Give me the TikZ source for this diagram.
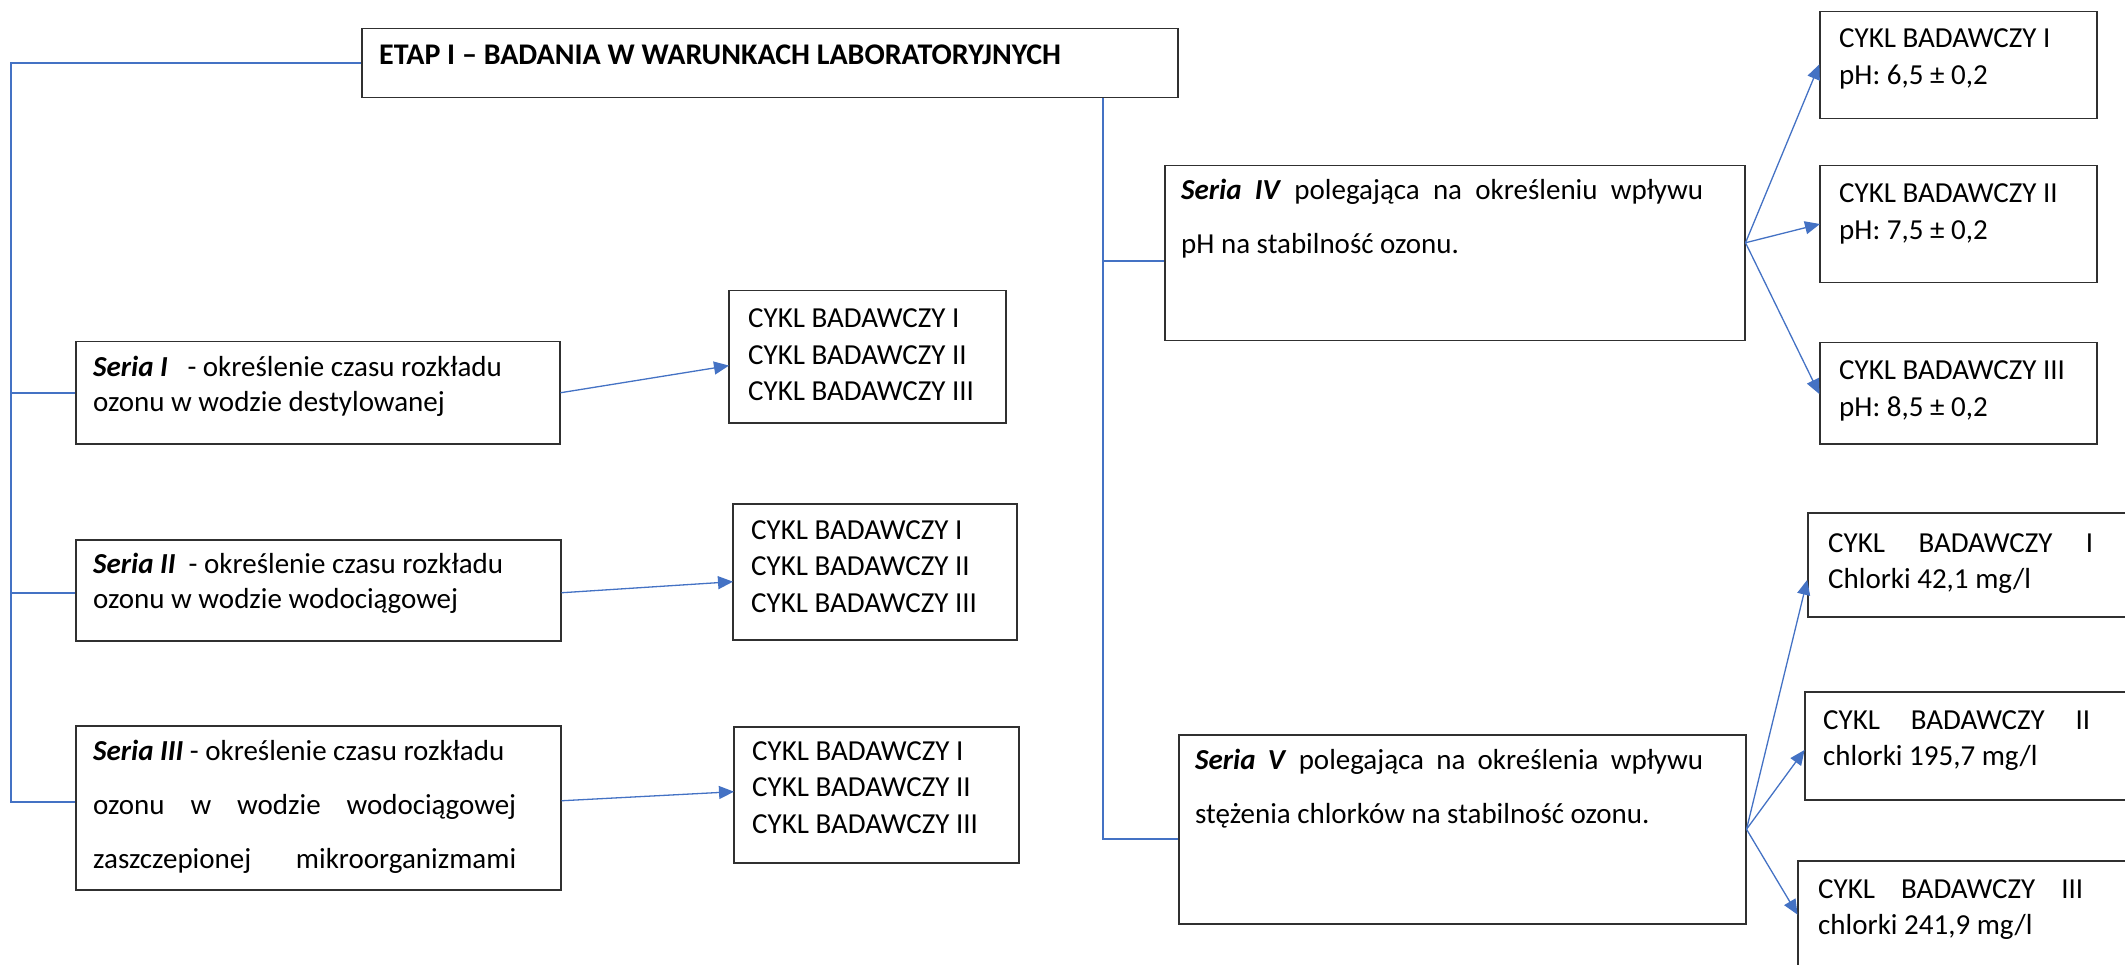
\documentclass[tikz,border=0pt]{standalone}
\usepackage{fontspec}
\setmainfont{Carlito}
\usetikzlibrary{arrows.meta}
\definecolor{lblue}{HTML}{4472C4}
\definecolor{boxline}{HTML}{303030}
\tikzset{
  box/.style={draw=boxline, line width=1.5pt, inner sep=0pt, anchor=north west},
  txt/.style={inner sep=0pt, anchor=base west, font=\fontsize{29}{36}\selectfont, text=black},
  conn/.style={draw=lblue, line width=1.6pt},
  arr/.style={draw=lblue, line width=1.3pt, -{Triangle[length=15pt,width=13pt]}, shorten >=-1pt}
}
\newcommand\mybox[5]{\node[box, minimum width={#4-#2}, minimum height={#5-#3}] (#1) at (#2,#3) {};}
\newcommand\bi[1]{\textbf{\textit{#1}}}
\begin{document}
\begin{tikzpicture}[x=1pt,y=-1pt]
\useasboundingbox (0,0) rectangle (2125,965);
% boxes
\mybox{etap}{361}{28}{1177}{97}
\mybox{s1}{75}{341}{559}{443}
\mybox{s2}{75}{539}{560}{640}
\mybox{s3}{75}{725}{560}{889}
\mybox{c1}{728}{290}{1005}{422}
\mybox{c2}{732}{503}{1016}{639}
\mybox{c3}{733}{726}{1018}{862}
\mybox{s4}{1164}{165}{1744}{340}
\mybox{s5}{1178}{734}{1745}{923}
\mybox{c41}{1819}{11}{2096}{118}
\mybox{c42}{1819}{165}{2096}{282}
\mybox{c43}{1819}{342}{2096}{443}
\mybox{c51}{1807}{512}{2140}{616}
\mybox{c52}{1804}{691}{2140}{799}
\mybox{c53}{1797}{860}{2140}{975}
% texts
\node[txt, font=\fontsize{30}{36}\selectfont] (etapt) at (379,65) {\textbf{ETAP I – BADANIA W WARUNKACH LABORATORYJNYCH}};
\node[txt] (s1t) at (93,377) {\vtop{\baselineskip=35pt\hbox{\bi{Seria I}\ \ \ - określenie czasu rozkładu}\hbox{ozonu w wodzie destylowanej}}};
\node[txt] (s2t) at (93,573) {\vtop{\baselineskip=35pt\hbox{\bi{Seria II}\ \ - określenie czasu rozkładu}\hbox{ozonu w wodzie wodociągowej}}};
\node[txt] (s3t) at (93,760) {\vtop{\baselineskip=54pt\hbox{\bi{Seria III} - określenie czasu rozkładu}\hbox to 423pt{ozonu w wodzie wodociągowej}\hbox to 423pt{zaszczepionej mikroorganizmami}}};
\node[txt] (c1t) at (748,328) {\vtop{\baselineskip=36.5pt\hbox{CYKL BADAWCZY I}\hbox{CYKL BADAWCZY II}\hbox{CYKL BADAWCZY III}}};
\node[txt] (c2t) at (751,539) {\vtop{\baselineskip=36.5pt\hbox{CYKL BADAWCZY I}\hbox{CYKL BADAWCZY II}\hbox{CYKL BADAWCZY III}}};
\node[txt] (c3t) at (752,760) {\vtop{\baselineskip=36.5pt\hbox{CYKL BADAWCZY I}\hbox{CYKL BADAWCZY II}\hbox{CYKL BADAWCZY III}}};
\node[txt] (s4t) at (1181,200) {\vtop{\baselineskip=54pt\hbox to 522pt{\bi{Seria IV} polegająca na określeniu wpływu}\hbox{pH na stabilność ozonu.}}};
\node[txt] (s5t) at (1195,769) {\vtop{\baselineskip=54pt\hbox to 508pt{\bi{Seria V} polegająca na określenia wpływu}\hbox{stężenia chlorków na stabilność ozonu.}}};
\node[txt] (c41t) at (1839,48) {\vtop{\baselineskip=37pt\hbox{CYKL BADAWCZY I}\hbox{pH: 6,5 ± 0,2}}};
\node[txt] (c42t) at (1839,203) {\vtop{\baselineskip=37pt\hbox{CYKL BADAWCZY II}\hbox{pH: 7,5 ± 0,2}}};
\node[txt] (c43t) at (1839,379) {\vtop{\baselineskip=37pt\hbox{CYKL BADAWCZY III}\hbox{pH: 8,5 ± 0,2}}};
\node[txt] (c51t) at (1828,552) {\vtop{\baselineskip=36pt\hbox to 265pt{CYKL BADAWCZY I}\hbox{Chlorki 42,1 mg/l}}};
\node[txt] (c52t) at (1823,729) {\vtop{\baselineskip=36pt\hbox to 267pt{CYKL BADAWCZY II}\hbox{chlorki 195,7 mg/l}}};
\node[txt] (c53t) at (1818,898) {\vtop{\baselineskip=36pt\hbox to 265pt{CYKL BADAWCZY III}\hbox{chlorki 241,9 mg/l}}};
% connection points
\coordinate (L) at (11,0);
\coordinate (R) at (1103,0);
\coordinate (s2w) at ([yshift=-2.5pt]s2.west);
\coordinate (s3w) at ([yshift=6pt]s3.west);
\coordinate (s4w) at ([yshift=-7.5pt]s4.west);
\coordinate (s5w) at ([yshift=-9.5pt]s5.west);
% trunk lines
\draw[conn] (etap.west) -- (etap.west -| L) -- (L |- s3w) -- (s3w);
\draw[conn] (L |- s1.west) -- (s1.west);
\draw[conn] (L |- s2w) -- (s2w);
\draw[conn] (R |- etap.south) -- (R |- s5w) -- (s5w);
\draw[conn] (R |- s4w) -- (s4w);
% arrows
\draw[arr] (s1.east) -- ([yshift=-9pt]c1.west);
\draw[arr] ([yshift=-2.5pt]s2.east) -- ([yshift=-10pt]c2.west);
\draw[arr] ([yshift=7pt]s3.east) -- ([yshift=3pt]c3.west);
\draw[arr] ([yshift=10.5pt]s4.east) -- (c41.west);
\draw[arr] ([yshift=10.5pt]s4.east) -- (c42.west);
\draw[arr] ([yshift=10.5pt]s4.east) -- (c43.west);
\draw[arr] (s5.east) -- ([yshift=-16pt]c51.west);
\draw[arr] (s5.east) -- ([yshift=-5pt]c52.west);
\draw[arr] (s5.east) -- ([yshift=4.5pt]c53.west);
\end{tikzpicture}
\end{document}
